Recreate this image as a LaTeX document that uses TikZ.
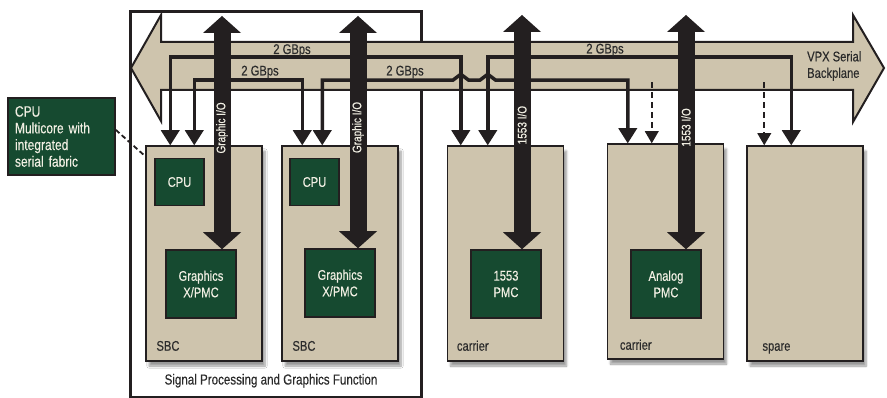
\documentclass[tikz,border=0pt]{standalone}
\usepackage{fontspec}
\setmainfont{Liberation Sans}[FakeStretch=0.8, FakeBold=0.3]
\usetikzlibrary{arrows.meta,calc,shadows.blur}

\definecolor{slottan}{HTML}{CEC4AD}
\definecolor{pmcgreen}{HTML}{164A30}
\definecolor{inkdark}{HTML}{231F20}
\definecolor{labelgray}{HTML}{2B2B2B}
\definecolor{boxtext}{HTML}{F1EFE3}

\tikzset{
    frame/.style={draw=inkdark, line width=3pt, fill=white, inner sep=0pt,
        minimum width=291pt, minimum height=385pt},
    slot/.style={draw=inkdark, line width=1.5pt, fill=slottan, inner sep=0pt,
        minimum width=116pt, minimum height=215pt,
        blur shadow={shadow xshift=3pt, shadow yshift=-5pt, shadow opacity=40, shadow blur steps=8}},
    pmc/.style={draw=inkdark, line width=1.5pt, fill=pmcgreen, text=boxtext, inner sep=0pt,
        minimum width=70pt, minimum height=68pt, align=center,
        font=\fontsize{14}{16.5}\selectfont},
    cpubox/.style={pmc, minimum width=49pt, minimum height=47pt},
    note/.style={draw=inkdark, line width=1.5pt, fill=pmcgreen, text=boxtext,
        align=left, text width=93pt, inner xsep=7pt, inner ysep=0pt,
        minimum width=107pt, minimum height=77pt,
        font=\fontsize{15}{16.7}\selectfont},
    slotlabel/.style={anchor=base west, inner sep=0pt, text=labelgray,
        font=\fontsize{14}{16.5}\selectfont},
    ratelabel/.style={anchor=base, inner sep=0pt, text=labelgray,
        font=\fontsize{14}{16.5}\selectfont},
    buslabel/.style={anchor=west, align=left, inner sep=0pt, text=labelgray,
        font=\fontsize{14}{16.5}\selectfont},
    iolabel/.style={rotate=90, inner sep=0pt, text=boxtext,
        font=\fontsize{12.5}{14}\selectfont},
    bus/.style={draw=inkdark, line width=2pt, fill=slottan, line join=miter},
    link/.style={draw=inkdark, line width=3.5pt, <->,
        >={Triangle[width=19pt,length=15pt,line width=0pt]}},
    dlink/.style={draw=inkdark, line width=2pt, dash pattern=on 6pt off 4pt, ->,
        >={Triangle[width=14pt,length=12pt,line width=0pt]}},
    notelink/.style={draw=inkdark, line width=1.8pt, dash pattern=on 5pt off 3pt},
    ioarrow/.style={draw=inkdark, line width=17pt, <->,
        >={Triangle[width=38pt,length=17pt,line width=0pt]}},
}

\begin{document}
\begin{tikzpicture}[x=1pt, y=-1pt]
    \useasboundingbox (0,0) rectangle (887,398);

    % Signal processing and graphics function frame
    \node[frame] (spgf) at (275.5,204.5) {};
    \node[slotlabel, anchor=base, font=\fontsize{14.5}{16.5}\selectfont] (spgflbl) at ($(spgf.south)+(-4.5,-14)$) {Signal Processing and Graphics Function};

    % Slots on the backplane
    \node[slot] (sbc1) at (204,253.5) {};
    \node[slot] (sbc2) at (340,253.5) {};
    \node[slot] (car1) at (505.5,253.5) {};
    \node[slot] (car2) at (665.5,251.5) {};
    \node[slot] (spare) at (805,253.5) {};

    \node[slotlabel] (sbc1lbl) at ($(sbc1.south west)+(11,-11)$) {SBC};
    \node[slotlabel] (sbc2lbl) at ($(sbc2.south west)+(11,-11)$) {SBC};
    \node[slotlabel] (car1lbl) at ($(car1.south west)+(10,-11)$) {carrier};
    \node[slotlabel] (car2lbl) at ($(car2.south west)+(13,-10)$) {carrier};
    \node[slotlabel] (sparelbl) at ($(spare.south west)+(16,-11)$) {spare};

    % VPX serial backplane
    \draw[bus] (131,68) -- (161,15) -- (161,42) -- (853,42) -- (853,15) -- (884,68)
        -- (853,122) -- (853,90) -- (161,90) -- (161,121) -- cycle;
    \node[buslabel] (vpx) at (807,66) {VPX Serial\\Backplane};

    % Serial links between the slots
    \coordinate (a1) at ($(sbc1.north west)+(25,0)$);
    \coordinate (b1) at ($(sbc1.north west)+(49,0)$);
    \coordinate (b2) at ($(sbc2.north west)+(21,0)$);
    \coordinate (c1) at ($(sbc2.north west)+(41,0)$);
    \coordinate (a2) at ($(car1.north west)+(14,0)$);
    \coordinate (d1) at ($(car1.north west)+(41,0)$);
    \coordinate (c2) at ($(car2.north west)+(21,0)$);
    \coordinate (e1) at ($(car2.north west)+(45,0)$);
    \coordinate (e2) at ($(spare.north west)+(18,0)$);
    \coordinate (d2) at ($(spare.north west)+(45,0)$);

    \draw[link] (a1) -- ++(0,-88) -| (a2);
    \draw[link] (d1) -- ++(0,-88) -| (d2);
    \draw[link] (b1) -- ++(0,-65) -| (b2);
    \draw[link] (c1) -- ++(0,-65) coordinate (cbus)
        -- ($(cbus -| a2)+(-8,0)$) -- ++(8,-6) -- ++(8,6)
        -- ($(cbus -| d1)+(-8,0)$) -- ++(8,-6) -- ++(8,6) -| (c2);

    \draw[dlink] ([yshift=61pt]e1) -- (e1);
    \draw[dlink] ([yshift=63pt]e2) -- (e2);

    \node[ratelabel] (rateA) at (292,54) {2 GBps};
    \node[ratelabel] (rateB) at (260,75.5) {2 GBps};
    \node[ratelabel] (rateC) at (405,75.5) {2 GBps};
    \node[ratelabel] (rateD) at (605,53.5) {2 GBps};

    % Modules on the boards
    \node[cpubox] (cpu1) at (179.5,182) {CPU};
    \node[cpubox] (cpu2) at (314.5,182) {CPU};
    \node[pmc] (gfx1) at (201,284) {Graphics\\X/PMC};
    \node[pmc] (gfx2) at (340,283) {Graphics\\X/PMC};
    \node[pmc] (pmc1553) at (506,284) {1553\\PMC};
    \node[pmc] (analog) at (666,284) {Analog\\PMC};

    % CPU callout
    \node[note] (cpunote) at (61.5,136.5) {CPU\\Multicore with\\integrated\\serial fabric};
    \draw[notelink] (cpunote.7) -- ($(sbc1.north west)+(0,11)$);

    % I/O to the outside
    \coordinate (gio1) at (222,16);
    \coordinate (gio2) at (358,16);
    \coordinate (mio1) at (522,15);
    \coordinate (mio2) at (686,15);

    \draw[ioarrow] (gio1) -- (gio1 |- gfx1.north) node[iolabel, pos=.48] {Graphic I/O};
    \draw[ioarrow] (gio2) -- (gio2 |- gfx2.north) node[iolabel, pos=.48] {Graphic I/O};
    \draw[ioarrow] (mio1) -- (mio1 |- pmc1553.north) node[iolabel, pos=.47] {1553 I/O};
    \draw[ioarrow] (mio2) -- (mio2 |- analog.north) node[iolabel, pos=.48] {1553 I/O};
\end{tikzpicture}
\end{document}
